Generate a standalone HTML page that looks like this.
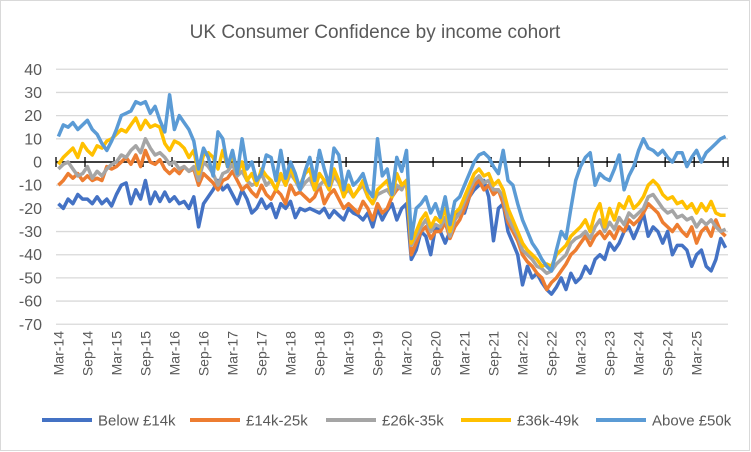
<!DOCTYPE html>
<html><head><meta charset="utf-8"><style>
body{margin:0;background:#fff;}
svg{display:block;font-family:"Liberation Sans",sans-serif;}
</style></head><body>
<svg id="chart" width="751" height="452" viewBox="0 0 751 452" xmlns="http://www.w3.org/2000/svg">
<rect x="0.5" y="0.5" width="749" height="450" fill="#fff" stroke="#d9d9d9"/>
<text x="375" y="38" text-anchor="middle" font-size="19" fill="#595959">UK Consumer Confidence by income cohort</text>
<g id="grid"></g><g id="yticks"></g><g id="axis"></g><g id="xticks"></g><g id="series"></g><g id="legend"></g>
</svg>
<script>
const yTicks=[40,30,20,10,0,-10,-20,-30,-40,-50,-60,-70];
const xLabels=["Mar-14","Sep-14","Mar-15","Sep-15","Mar-16","Sep-16","Mar-17","Sep-17","Mar-18","Sep-18","Mar-19","Sep-19","Mar-20","Sep-20","Mar-21","Sep-21","Mar-22","Sep-22","Mar-23","Sep-23","Mar-24","Sep-24","Mar-25"];
const seriesNames=["Below £14k","£14k-25k","£26k-35k","£36k-49k","Above £50k"];
const below14=[-18,-20,-16,-18,-14,-16,-16,-18,-15,-18,-16,-19,
-14,-10,-9,-18,-12,-16,-8,-18,-13,-17,-13,-17,
-15,-18,-17,-20,-15,-28,-18,-15,-12,-8,-12,-10,
-14,-18,-12,-16,-22,-20,-16,-20,-18,-24,-18,-20,
-17,-24,-20,-21,-20,-21,-22,-20,-24,-21,-23,-25,
-20,-22,-23,-25,-22,-28,-20,-25,-21,-18,-25,-20,
-18,-42,-38,-30,-32,-40,-28,-30,-35,-30,-25,-20,
-22,-15,-12,-10,-8,-15,-34,-20,-18,-30,-35,-40,
-53,-45,-50,-48,-52,-55,-57,-54,-50,-55,-48,-52,
-50,-45,-48,-42,-40,-42,-35,-38,-35,-30,-28,-33,
-28,-22,-32,-28,-30,-35,-30,-40,-36,-36,-38,-45,
-40,-38,-45,-47,-42,-33,-37];
const inc14to25=[-10,-8,-5,-7,-5,-8,-6,-8,-7,-8,-2,-3,
-2,0,2,-1,3,-2,5,0,-1,1,-3,-5,
-3,-5,-2,-4,-3,-10,-5,-7,-9,-12,-8,-7,
-4,-8,-12,-10,-13,-15,-10,-14,-16,-12,-14,-18,
-10,-14,-13,-15,-17,-15,-10,-18,-14,-12,-16,-20,
-18,-20,-22,-17,-20,-25,-18,-22,-20,-15,-12,-10,
-8,-40,-35,-30,-28,-33,-30,-30,-26,-33,-28,-25,
-20,-15,-10,-8,-12,-10,-14,-12,-18,-26,-30,-34,
-40,-43,-45,-48,-50,-55,-52,-50,-47,-44,-40,-38,
-35,-32,-36,-32,-30,-33,-30,-33,-28,-30,-25,-27,
-25,-22,-18,-20,-22,-26,-28,-30,-27,-30,-32,-28,
-35,-30,-28,-32,-25,-30,-32];
const inc26to35=[-3,-1,0,-3,-6,-5,-2,-7,-4,-6,-3,-1,
0,3,2,5,7,4,10,6,3,4,2,-1,
0,-3,-2,-4,-2,-8,0,-2,-5,-10,-5,-4,
-1,-6,-4,-8,-10,-9,-5,-10,-8,-12,-6,-10,
-5,-8,-12,-9,-7,-12,-10,-8,-12,-6,-9,-14,
-12,-15,-12,-10,-15,-18,-14,-13,-12,-15,-10,-12,
-8,-36,-32,-28,-25,-30,-27,-28,-24,-32,-25,-22,
-17,-12,-8,-6,-9,-8,-12,-12,-15,-24,-28,-32,
-38,-40,-42,-45,-46,-48,-47,-44,-42,-40,-35,-33,
-32,-30,-33,-28,-25,-30,-26,-29,-24,-27,-22,-24,
-22,-20,-15,-14,-17,-20,-22,-21,-24,-23,-25,-24,
-28,-25,-27,-25,-28,-30,-29];
const inc36to49=[-1,2,4,6,2,8,5,3,7,6,9,10,
12,14,13,16,19,14,18,15,16,15,8,5,
9,8,6,2,5,-5,3,4,2,-3,5,-2,
3,-5,0,-8,-5,-10,-3,-6,-8,-12,-5,-10,
-2,-8,-10,-5,-3,-12,-5,-8,-12,-3,-8,-15,
-10,-15,-12,-8,-15,-18,-12,-10,-8,-15,-5,-10,
-8,-35,-30,-25,-22,-28,-24,-26,-20,-30,-22,-20,
-15,-10,-5,-3,-6,-5,-10,-8,-12,-20,-25,-30,
-35,-38,-40,-42,-45,-44,-45,-40,-38,-36,-32,-30,
-28,-25,-30,-22,-18,-28,-20,-25,-18,-20,-15,-20,
-18,-15,-10,-8,-10,-14,-16,-15,-18,-17,-20,-18,
-22,-18,-21,-17,-22,-23,-23];
const above50=[11,16,15,17,14,16,18,14,12,8,5,9,
14,20,21,22,26,25,26,21,24,18,13,29,
14,20,17,14,9,-3,6,2,-6,13,10,-2,
5,-5,10,-3,0,-8,-5,3,2,-8,5,-7,
0,-5,-12,-4,2,-8,5,-3,-10,6,3,-12,
-4,-10,-8,-5,-12,-15,10,-6,-3,-14,2,-4,
5,-33,-20,-18,-15,-22,-18,-24,-15,-27,-17,-15,
-10,-5,0,3,4,2,-2,-5,5,-8,-10,-18,
-25,-30,-35,-38,-42,-45,-47,-38,-30,-33,-20,-8,
-2,2,4,-10,-5,-7,-8,-3,3,-12,-6,-2,
5,10,6,5,3,5,2,0,4,4,-2,2,
5,0,4,6,8,10,11];
const colors=["#4472C4","#ED7D31","#A5A5A5","#FFC000","#5B9BD5"];
const NS="http://www.w3.org/2000/svg";
const N=above50.length;
const X0=56,X1=728,Y0=162,PX=2.318;
const W=(X1-X0)/N;
function xs(i){return X0+(i+0.5)*W;}
function ys(v){return Y0-v*PX;}
function mk(tag,attrs,parent){const e=document.createElementNS(NS,tag);for(const k in attrs)e.setAttribute(k,attrs[k]);parent.appendChild(e);return e;}
const grid=document.getElementById('grid'),yt=document.getElementById('yticks'),ax=document.getElementById('axis'),xt=document.getElementById('xticks'),sg=document.getElementById('series'),lg=document.getElementById('legend');
yTicks.forEach(v=>{
  if(v!==0){const l=mk('line',{x1:X0,x2:X1,y1:ys(v),y2:ys(v),stroke:'#d9d9d9','stroke-width':1.3},grid);
  
  }
  const t=mk('text',{x:42,y:ys(v)+5.5,'text-anchor':'end','font-size':16,fill:'#595959'},yt);
  t.textContent=v;
  
  
});
const zl=mk('line',{x1:X0,x2:X1,y1:Y0,y2:Y0,stroke:'#000','stroke-width':1.6},ax);


for(let k=0;k*6<=N;k++){
  const x=X0+k*6*W;
  const tk=mk('line',{x1:x,x2:x,y1:Y0-5,y2:Y0+5,stroke:'#000','stroke-width':1.3},ax);
  
  
}
const xe=mk('line',{x1:X1,x2:X1,y1:Y0-5,y2:Y0+5,stroke:'#000','stroke-width':1.3},ax);


xLabels.forEach((lab,k)=>{
  const x=xs(k*6);
  const t=mk('text',{x:0,y:0,'text-anchor':'end','font-size':14,fill:'#595959',transform:`translate(${x+5},331) rotate(-90)`},xt);
  t.textContent=lab;
  
  
});
const all=[below14,inc14to25,inc26to35,inc36to49,above50];
all.forEach((arr,s)=>{
  const d=arr.map((v,i)=>(i?'L':'M')+xs(i).toFixed(1)+','+ys(v).toFixed(1)).join('');
  const p=mk('path',{d:d,fill:'none',stroke:colors[s],'stroke-width':3.5,'stroke-linejoin':'round'},sg);
  
  
});
const lx=[42,190,326,461,596];
seriesNames.forEach((n,s)=>{
  const g=mk('g',{},lg);
  
  
  mk('line',{x1:lx[s],x2:lx[s]+50,y1:420,y2:420,stroke:colors[s],'stroke-width':4},g);
  const t=mk('text',{x:lx[s]+56,y:425.5,'font-size':15,fill:'#595959'},g);
  t.textContent=n;
  
  
});
</script>
</body></html>
